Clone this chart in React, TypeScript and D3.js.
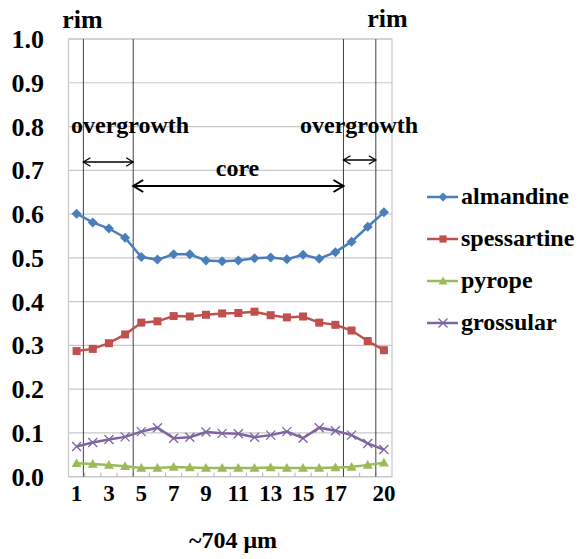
import React from 'react';
import { scaleLinear, line, range } from 'd3';

const points = range(1, 21);
const almandine = [0.601, 0.581, 0.567, 0.546, 0.502, 0.496, 0.508, 0.508, 0.494, 0.492, 0.494, 0.499, 0.501, 0.497, 0.507, 0.498, 0.513, 0.537, 0.571, 0.604];
const spessartine = [0.287, 0.292, 0.305, 0.325, 0.352, 0.355, 0.367, 0.366, 0.370, 0.373, 0.374, 0.377, 0.369, 0.364, 0.366, 0.352, 0.347, 0.334, 0.310, 0.289];
const pyrope = [0.031, 0.029, 0.027, 0.024, 0.020, 0.020, 0.022, 0.021, 0.020, 0.020, 0.020, 0.020, 0.021, 0.020, 0.020, 0.020, 0.021, 0.022, 0.027, 0.032];
const grossular = [0.069, 0.078, 0.085, 0.091, 0.103, 0.112, 0.088, 0.090, 0.102, 0.099, 0.098, 0.090, 0.095, 0.103, 0.088, 0.112, 0.105, 0.095, 0.076, 0.062];
const xTickLabels = [1, 3, 5, 7, 9, 11, 13, 15, 17, 20];
const yTicks = range(0, 11).map((d) => d / 10);
const zoneLines = [1.42, 4.5, 17.5, 19.5];

const series = [
  { name: 'almandine', values: almandine, color: '#4a7ebb', marker: 'diamond' },
  { name: 'spessartine', values: spessartine, color: '#c0504d', marker: 'square' },
  { name: 'pyrope', values: pyrope, color: '#9bbb59', marker: 'triangle' },
  { name: 'grossular', values: grossular, color: '#8064a2', marker: 'x' },
];

const W = 580;
const H = 559;
const left = 68.5;
const right = 392;
const top = 39;
const bottom = 476.7;
const font = '"Liberation Serif", "Times New Roman", serif';

const Marker = ({ type, x, y, color, s }) => {
  if (type === 'diamond')
    return <path d={`M${x},${y - s}L${x + s},${y}L${x},${y + s}L${x - s},${y}Z`} fill={color} />;
  if (type === 'square')
    return <rect x={x - s * 0.8} y={y - s * 0.8} width={s * 1.6} height={s * 1.6} fill={color} />;
  if (type === 'triangle')
    return <path d={`M${x},${y - s}L${x + s},${y + s * 0.75}L${x - s},${y + s * 0.75}Z`} fill={color} />;
  return (
    <path
      d={`M${x - s},${y - s}L${x + s},${y + s}M${x - s},${y + s}L${x + s},${y - s}`}
      stroke={color}
      strokeWidth={1.3}
      fill="none"
    />
  );
};

const Arrow = ({ x1, x2, y, head, w }) => (
  <g stroke="#000" strokeWidth={w} fill="none">
    <line x1={x1} x2={x2} y1={y} y2={y} />
    <path d={`M${x1 + head},${y - head * 0.6}L${x1},${y}L${x1 + head},${y + head * 0.6}`} />
    <path d={`M${x2 - head},${y - head * 0.6}L${x2},${y}L${x2 - head},${y + head * 0.6}`} />
  </g>
);

export default function App() {
  const x = scaleLinear().domain([0.5, 20.5]).range([left, right]);
  const y = scaleLinear().domain([0, 1]).range([bottom, top]);
  const gen = line<number>()
    .x((_, i) => x(points[i]))
    .y((d) => y(d));

  return (
    <svg width={W} height={H} style={{ position: 'absolute', left: 0, top: 0, background: '#fff' }}>
      {/* grid */}
      {yTicks.map((t) => (
        <line key={t} x1={left} x2={right} y1={y(t)} y2={y(t)} stroke="#c8c8c8" strokeWidth={1.2} />
      ))}
      <rect x={left} y={top} width={right - left} height={bottom - top} fill="none" stroke="#c8c8c8" strokeWidth={1.2} />
      {range(1, 20).map((n) => (
        <line key={n} x1={x(n + 0.5)} x2={x(n + 0.5)} y1={bottom} y2={bottom - 4} stroke="#b0b0b0" />
      ))}
      {zoneLines.map((z) => (
        <line key={z} x1={x(z)} x2={x(z)} y1={top} y2={bottom} stroke="#404040" strokeWidth={1} />
      ))}

      {/* y axis labels */}
      {yTicks.map((t) => (
        <text key={t} x={44} y={y(t) + 9} textAnchor="end" fontFamily={font} fontWeight="bold" fontSize={26}>
          {t.toFixed(1)}
        </text>
      ))}
      {/* x axis labels */}
      {xTickLabels.map((n) => (
        <text key={n} x={x(n)} y={501} textAnchor="middle" fontFamily={font} fontWeight="bold" fontSize={23}>
          {n}
        </text>
      ))}
      <text x={233} y={548} textAnchor="middle" fontFamily={font} fontWeight="bold" fontSize={24}>
        ~704 μm
      </text>

      {/* series */}
      {series.map((s) => (
        <g key={s.name}>
          <path d={gen(s.values)} fill="none" stroke={s.color} strokeWidth={2.5} />
          {s.values.map((v, i) => (
            <Marker key={i} type={s.marker} x={x(points[i])} y={y(v)} color={s.color} s={s.marker === 'x' ? 4.5 : 5} />
          ))}
        </g>
      ))}

      {/* annotations */}
      <text x={82.5} y={28} textAnchor="middle" fontFamily={font} fontWeight="bold" fontSize={26}>rim</text>
      <text x={387.5} y={27} textAnchor="middle" fontFamily={font} fontWeight="bold" fontSize={26}>rim</text>
      <text x={71} y={133} fontFamily={font} fontWeight="bold" fontSize={24}>overgrowth</text>
      <text x={300} y={133} fontFamily={font} fontWeight="bold" fontSize={24}>overgrowth</text>
      <text x={237.5} y={176} textAnchor="middle" fontFamily={font} fontWeight="bold" fontSize={24}>core</text>
      <Arrow x1={x(zoneLines[0])} x2={x(zoneLines[1])} y={162} head={7} w={1.3} />
      <Arrow x1={x(zoneLines[1])} x2={x(zoneLines[2])} y={186} head={10} w={2} />
      <Arrow x1={x(zoneLines[2])} x2={x(zoneLines[3])} y={160} head={7} w={1.3} />

      {/* legend */}
      {series.map((s, i) => {
        const ly = 197 + i * 42;
        return (
          <g key={s.name}>
            <line x1={427} x2={458} y1={ly} y2={ly} stroke={s.color} strokeWidth={2.5} />
            <Marker type={s.marker} x={443} y={ly} color={s.color} s={4.5} />
            <text x={461} y={ly + 7} fontFamily={font} fontWeight="bold" fontSize={24}>{s.name}</text>
          </g>
        );
      })}
    </svg>
  );
}
